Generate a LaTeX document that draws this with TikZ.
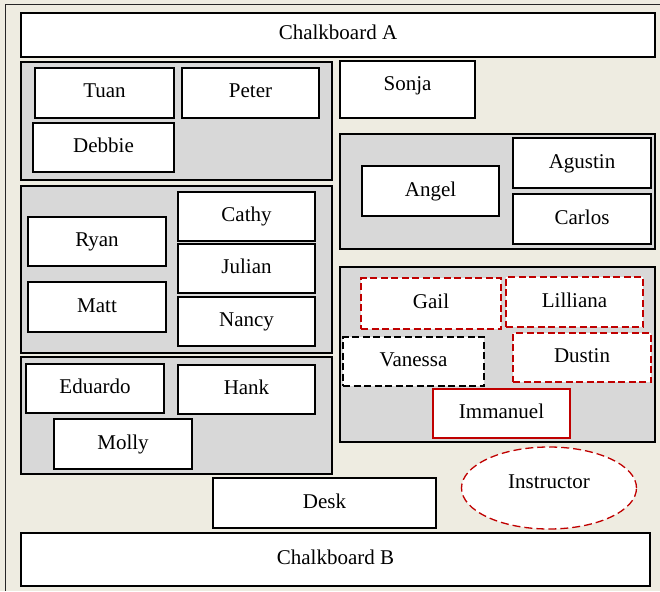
\documentclass[tikz,border=0pt]{standalone}
\usepackage{fontspec}
\setmainfont{Liberation Serif}
\usepackage{tikz}
\usetikzlibrary{shapes.geometric}
\definecolor{roomBeige}{RGB}{238,236,225}
\definecolor{tableGray}{RGB}{216,216,216}
\definecolor{markRed}{RGB}{192,0,0}
\tikzset{
    base/.style={font=\fontsize{21}{24}\selectfont, align=center, inner sep=0pt, outer sep=0pt,
                 text height=15pt, text depth=5pt},
    sz/.style 2 args={minimum width=#1pt, minimum height=#2pt},
    seat/.style={base, rectangle, draw=black, line width=1.3pt, fill=white},
    table/.style={base, rectangle, draw=black, line width=1.6pt, fill=tableGray},
    redseat/.style={seat, draw=markRed, dash pattern=on 7pt off 3.5pt},
    darkseat/.style={seat, dash pattern=on 7pt off 3.5pt},
    redsolid/.style={seat, draw=markRed},
    teacher/.style={base, ellipse, draw=markRed, line width=1.3pt, fill=white,
                    dash pattern=on 8pt off 4pt}
}

\begin{document}
\begin{tikzpicture}[x=1pt, y=-1pt]
  % Room
  \fill[roomBeige] (0,0) rectangle (660,591);
  \useasboundingbox (0,0) rectangle (660,591);
  \draw[line width=1pt, black!85] (5,591) -- (5,5) -- (660,5);

  % Boards
  \node[seat, sz={634}{44}] (chalkA) at (338,35) {Chalkboard A};
  \node[seat, sz={629}{53}] (chalkB) at (335.5,559.5) {Chalkboard B};

  % Left tables
  \node[table, sz={311}{118}] (tableTL) at (176.5,121) {};
  \node[seat, sz={139}{50}] (tuan) at (104.5,93) {Tuan};
  \node[seat, sz={137}{50}] (peter) at (250.5,93) {Peter};
  \node[seat, sz={141}{49}] (debbie) at (103.5,147.5) {Debbie};

  \node[table, sz={311}{167}] (tableML) at (176.5,269.5) {};
  \node[seat, sz={138}{49}] (ryan) at (97,241.5) {Ryan};
  \node[seat, sz={138}{50}] (matt) at (97,307) {Matt};
  \node[seat, sz={137}{49}] (cathy) at (246.5,216.5) {Cathy};
  \node[seat, sz={137}{49}] (julian) at (246.5,268.5) {Julian};
  \node[seat, sz={137}{49}] (nancy) at (246.5,321.5) {Nancy};

  \node[table, sz={311}{117}] (tableBL) at (176.5,415.5) {};
  \node[seat, sz={138}{49}] (eduardo) at (95,388.5) {Eduardo};
  \node[seat, sz={137}{49}] (hank) at (246.5,389.5) {Hank};
  \node[seat, sz={138}{50}] (molly) at (123,444) {Molly};

  % Right tables
  \node[seat, sz={135}{57}, text depth=12pt] (sonja) at (407.5,89.5) {Sonja};

  \node[table, sz={315}{115}] (tableTR) at (497.5,191.5) {};
  \node[seat, sz={137}{50}] (angel) at (430.5,191) {Angel};
  \node[seat, sz={138}{50}] (agustin) at (582,163) {Agustin};
  \node[seat, sz={138}{50}] (carlos) at (582,219) {Carlos};

  \node[table, sz={315}{175}] (tableBR) at (497.5,354.5) {};
  \node[redseat, sz={140}{51}] (gail) at (431,303.5) {Gail};
  \node[redseat, sz={137}{50}] (lilliana) at (574.5,302) {Lilliana};
  \node[darkseat, sz={141}{49}] (vanessa) at (413.5,361.5) {Vanessa};
  \node[redseat, sz={138}{49}] (dustin) at (582,357.5) {Dustin};
  \node[redsolid, sz={137}{49}] (immanuel) at (501.5,413.5) {Immanuel};

  % Front
  \node[seat, sz={223}{50}] (desk) at (324.5,503) {Desk};
  \node[teacher, sz={175}{82}, text depth=14pt] (instructor) at (549,488) {Instructor};
\end{tikzpicture}
\end{document}
